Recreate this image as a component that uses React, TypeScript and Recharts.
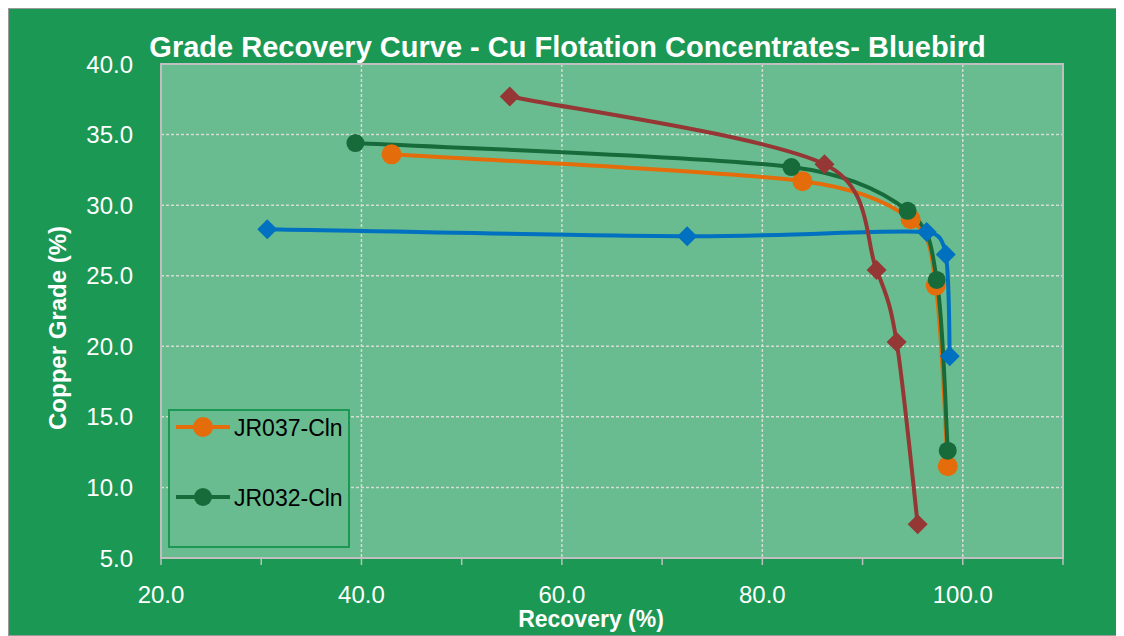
import { LineChart, Line, XAxis, YAxis, CartesianGrid, ReferenceArea, Legend, Label } from "recharts"

// JR037-Cln (orange circles)
const recoveryJR037 = [43.0, 84.0, 94.8, 97.3, 98.5]
const gradeJR037 = [33.6, 31.7, 29.0, 24.3, 11.5]
// JR032-Cln (dark green circles)
const recoveryJR032 = [39.4, 82.9, 94.5, 97.4, 98.5]
const gradeJR032 = [34.4, 32.7, 29.6, 24.7, 12.6]
// unlabelled series, blue diamonds
const recoveryBlue = [30.6, 72.5, 96.4, 98.3, 98.7]
const gradeBlue = [28.3, 27.8, 28.1, 26.5, 19.3]
// unlabelled series, red diamonds
const recoveryRed = [54.8, 86.2, 91.4, 93.4, 95.5]
const gradeRed = [37.7, 32.9, 25.4, 20.3, 7.4]

const xTicks = [20, 30, 40, 50, 60, 70, 80, 90, 100, 110]
const xLabelTicks = [20, 40, 60, 80, 100]
const xGridValues = [40, 60, 80, 100]
const yTicks = [5, 10, 15, 20, 25, 30, 35, 40]

const FONT = "'Liberation Sans', Arial, sans-serif"
const OUTER_BG = "#1B9853"
const PLOT_BG = "#68BC8F"
const AXIS_GRAY = "#bfbfbf"

const toPoints = (xs: number[], ys: number[]) => xs.map((x, i) => ({ x, y: ys[i] }))

const seriesJR037 = toPoints(recoveryJR037, gradeJR037)
const seriesJR032 = toPoints(recoveryJR032, gradeJR032)
const seriesBlue = toPoints(recoveryBlue, gradeBlue)
const seriesRed = toPoints(recoveryRed, gradeRed)

// Excel-style smoothed line: Catmull-Rom tangents, capped so short segments don't overshoot
function excelSmooth(context: any) {
  let pts: [number, number][] = []
  const dist = (a: [number, number], b: [number, number]) => Math.hypot(b[0] - a[0], b[1] - a[1])
  const tangent = (i: number, side: number) => {
    const p0 = pts[i - 1] || pts[i]
    const p2 = pts[i + 1] || pts[i]
    let tx = (p2[0] - p0[0]) / 6
    let ty = (p2[1] - p0[1]) / 6
    const neighbour = pts[i + side]
    if (neighbour) {
      const len = Math.hypot(tx, ty)
      const limit = dist(pts[i], neighbour) * 0.45
      if (len > limit && len > 0) {
        tx *= limit / len
        ty *= limit / len
      }
    }
    return [tx, ty]
  }
  return {
    areaStart() {},
    areaEnd() {},
    lineStart() {
      pts = []
    },
    point(x: number, y: number) {
      pts.push([+x, +y])
    },
    lineEnd() {
      if (!pts.length) return
      context.moveTo(pts[0][0], pts[0][1])
      for (let i = 0; i < pts.length - 1; i++) {
        const p1 = pts[i]
        const p2 = pts[i + 1]
        const [ox, oy] = tangent(i, 1)
        const [ix, iy] = tangent(i + 1, -1)
        context.bezierCurveTo(p1[0] + ox, p1[1] + oy, p2[0] - ix, p2[1] - iy, p2[0], p2[1])
      }
    },
  }
}

const circleDot = (color: string, r: number) => (props: any) => (
  <circle key={`c-${color}-${props.index}`} cx={props.cx} cy={props.cy} r={r} fill={color} />
)

const diamondDot = (color: string, s: number) => (props: any) => {
  const { cx, cy } = props
  return (
    <path
      key={`d-${color}-${props.index}`}
      d={`M${cx},${cy - s} L${cx + s},${cy} L${cx},${cy + s} L${cx - s},${cy} Z`}
      fill={color}
    />
  )
}

function RecoveryTick({ x, y, payload }: any) {
  if (!xLabelTicks.includes(payload.value)) return <g />
  return (
    <text x={x} y={y} dy="0.71em" textAnchor="middle" fill="#fff" fontSize={24} fontFamily={FONT}>
      {payload.value.toFixed(1)}
    </text>
  )
}

const legendItems = [
  { name: "JR037-Cln", color: "#E46C0A", r: 10 },
  { name: "JR032-Cln", color: "#176B3A", r: 9 },
]

function GradeLegend() {
  return (
    <div
      style={{
        boxSizing: "border-box",
        width: 182,
        height: 139,
        border: `2px solid ${OUTER_BG}`,
        background: PLOT_BG,
      }}
    >
      <svg width={178} height={135}>
        {legendItems.map((item, i) => (
          <g key={item.name} transform={`translate(0, ${i * 70})`}>
            <line x1={6} y1={16} x2={60} y2={16} stroke={item.color} strokeWidth={4} />
            <circle cx={33} cy={16} r={item.r} fill={item.color} />
            <text x={64} y={25} fontSize={23} fill="#000" fontFamily={FONT}>
              {item.name}
            </text>
          </g>
        ))}
      </svg>
    </div>
  )
}

export default function App() {
  return (
    <div
      style={{
        position: "relative",
        boxSizing: "border-box",
        width: 1110,
        height: 628,
        background: OUTER_BG,
        border: "1px solid #9a9a9a",
        fontFamily: FONT,
      }}
    >
      <div
        style={{
          position: "absolute",
          left: 0,
          top: 22,
          width: 1117,
          textAlign: "center",
          color: "#fff",
          fontWeight: "bold",
          fontSize: 29,
          lineHeight: "32px",
          zIndex: 2,
        }}
      >
        Grade Recovery Curve - Cu Flotation Concentrates- Bluebird
      </div>
      <LineChart
        width={1108}
        height={626}
        margin={{ top: 55, right: 54, bottom: 17, left: 72 }}
        style={{ fontFamily: FONT }}
      >
        <CartesianGrid
          fill={PLOT_BG}
          fillOpacity={1}
          stroke="#d4dcd4"
          strokeDasharray="3 2"
          strokeWidth={1.5}
          verticalValues={xGridValues}
        />
        <XAxis
          type="number"
          dataKey="x"
          domain={[20, 110]}
          ticks={xTicks}
          interval={0}
          allowDataOverflow
          tick={RecoveryTick}
          tickSize={7}
          tickMargin={21}
          tickLine={{ stroke: AXIS_GRAY, strokeWidth: 1.5 }}
          axisLine={{ stroke: AXIS_GRAY, strokeWidth: 2 }}
          height={60}
        >
          <Label
            content={() => (
              <text x={582} y={618} textAnchor="middle" fill="#fff" fontSize={23} fontWeight="bold" fontFamily={FONT}>
                Recovery (%)
              </text>
            )}
          />
        </XAxis>
        <YAxis
          type="number"
          domain={[5, 40]}
          ticks={yTicks}
          interval={0}
          allowDataOverflow
          tickFormatter={(v: number) => v.toFixed(1)}
          tick={{ fill: "#fff", fontSize: 24, fontFamily: FONT }}
          tickLine={false}
          tickSize={0}
          tickMargin={28}
          axisLine={{ stroke: AXIS_GRAY, strokeWidth: 2 }}
          width={80}
        >
          <Label
            content={() => (
              <text
                x={48}
                y={319}
                transform="rotate(-90, 48, 319)"
                textAnchor="middle"
                dominantBaseline="central"
                fill="#fff"
                fontSize={24}
                fontWeight="bold"
                fontFamily={FONT}
              >
                Copper Grade (%)
              </text>
            )}
          />
        </YAxis>
        <ReferenceArea x1={20} x2={110} y1={5} y2={40} fill="none" stroke={AXIS_GRAY} strokeWidth={2} ifOverflow="visible" />
        <Legend
          layout="horizontal"
          verticalAlign="middle"
          align="center"
          content={() => <GradeLegend />}
          wrapperStyle={{ left: 159, top: 400, width: 182, height: 139 }}
        />
        <Line
          data={seriesJR037}
          dataKey="y"
          name="JR037-Cln"
          type={excelSmooth as any}
          stroke="#E46C0A"
          strokeWidth={4}
          dot={circleDot("#E46C0A", 10)}
          activeDot={false}
          legendType="none"
          isAnimationActive={false}
        />
        <Line
          data={seriesJR032}
          dataKey="y"
          name="JR032-Cln"
          type={excelSmooth as any}
          stroke="#176B3A"
          strokeWidth={4}
          dot={circleDot("#176B3A", 9)}
          activeDot={false}
          legendType="none"
          isAnimationActive={false}
        />
        <Line
          data={seriesBlue}
          dataKey="y"
          name="blue"
          type={excelSmooth as any}
          stroke="#0070C0"
          strokeWidth={4}
          dot={diamondDot("#0070C0", 10)}
          activeDot={false}
          legendType="none"
          isAnimationActive={false}
        />
        <Line
          data={seriesRed}
          dataKey="y"
          name="red"
          type={excelSmooth as any}
          stroke="#953735"
          strokeWidth={4}
          dot={diamondDot("#953735", 10)}
          activeDot={false}
          legendType="none"
          isAnimationActive={false}
        />
      </LineChart>
    </div>
  )
}
